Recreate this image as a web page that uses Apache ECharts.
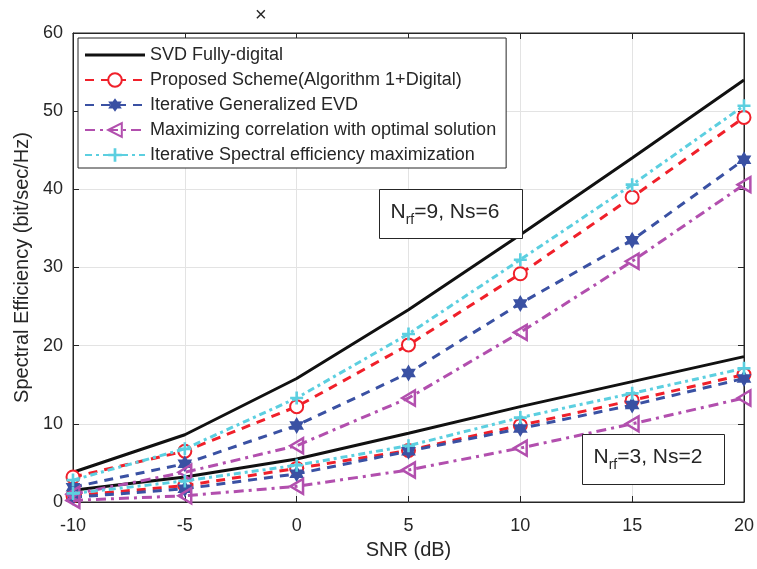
<!DOCTYPE html>
<html>
<head>
<meta charset="utf-8">
<script src="https://cdn.jsdelivr.net/npm/echarts@6/dist/echarts.min.js"></script>
<style>
  html, body { margin: 0; padding: 0; background: #fff; }
  #chart { width: 757px; height: 569px; }
</style>
</head>
<body>
<div id="chart"></div>
<script>
// SNR sweep (dB)
const snr = [-10, -5, 0, 5, 10, 15, 20];
const xTicks = [-10, -5, 0, 5, 10, 15, 20];
const yTicks = [0, 10, 20, 30, 40, 50, 60];

const seriesNames = [
  'SVD Fully-digital',
  'Proposed Scheme(Algorithm 1+Digital)',
  'Iterative Generalized EVD',
  'Maximizing correlation with optimal solution',
  'Iterative Spectral efficiency maximization'
];

// Nrf = 9, Ns = 6
const svd9   = [3.8, 8.6, 15.8, 24.6, 34.2, 44.0, 54.0];
const prop9  = [3.2, 6.5, 12.2, 20.1, 29.2, 39.0, 49.2];
const igevd9 = [1.9, 4.9, 9.8, 16.5, 25.4, 33.5, 43.8];
const mcorr9 = [1.0, 3.8, 7.2, 13.3, 21.7, 30.8, 40.6];
const isem9  = [2.8, 6.8, 13.3, 21.5, 31.0, 40.6, 50.7];

// Nrf = 3, Ns = 2
const svd3   = [1.5, 3.2, 5.5, 8.8, 12.2, 15.4, 18.6];
const prop3  = [0.8, 2.1, 4.3, 6.6, 9.8, 13.0, 16.3];
const igevd3 = [0.6, 1.7, 3.6, 6.5, 9.4, 12.4, 15.8];
const mcorr3 = [0.2, 0.8, 2.0, 4.1, 6.9, 10.0, 13.3];
const isem3  = [1.1, 2.7, 4.7, 7.2, 10.8, 13.9, 17.1];

const TXT = '#262626';
const FONT = '"Liberation Sans", Arial, sans-serif';

const hexagram = 'path://M10,0 L12.887,5 L18.66,5 L15.774,10 L18.66,15 L12.887,15 L10,20 L7.113,15 L1.34,15 L4.226,10 L1.34,5 L7.113,5 Z';
const leftTri = 'path://M0,10 L17,0 L17,20 Z';
const plusSym = 'path://M4,0 L6,0 L6,4 L10,4 L10,6 L6,6 L6,10 L4,10 L4,6 L0,6 L0,4 L4,4 Z';
// plain solid stroke used as the legend key of the unmarked series
const solidKey = 'path://M0,0 L60,0 L60,3 L0,3 Z';

const styles = [
  { color: '#111111', type: 'solid', symbol: 'none', size: 0, fill: '#111111', bw: 0 },
  { color: '#f0202a', type: [9, 7], symbol: 'emptyCircle', size: 13, fill: '#f0202a', bw: 2.5 },
  { color: '#3a51a3', type: [9, 7], symbol: hexagram, size: 17, fill: '#3a51a3', bw: 0 },
  { color: '#b24fae', type: [10, 5, 3, 5], symbol: leftTri, size: 15, fill: 'rgba(255,255,255,0)', bw: 2.5 },
  { color: '#5ccfe0', type: [7, 4, 3, 4], symbol: plusSym, size: 13, fill: '#5ccfe0', bw: 0 }
];

function makeSeries(idx, values) {
  const s = styles[idx];
  return {
    name: seriesNames[idx],
    type: 'line',
    data: snr.map((x, i) => [x, values[i]]),
    symbol: s.symbol,
    symbolSize: s.size,
    symbolKeepAspect: true,
    showSymbol: s.symbol !== 'none',
    lineStyle: { color: s.color, width: 3, type: s.type },
    itemStyle: { color: s.fill, borderColor: s.color, borderWidth: s.bw },
    emphasis: { disabled: true },
    animation: false,
    z: 2 + idx
  };
}

const group9 = [svd9, prop9, igevd9, mcorr9, isem9];
const group3 = [svd3, prop3, igevd3, mcorr3, isem3];
const series = [];
group9.forEach((v, i) => series.push(makeSeries(i, v)));
group3.forEach((v, i) => series.push(makeSeries(i, v)));

function annotation(left, top, w, h, label) {
  return {
    type: 'group', left: left, top: top,
    children: [
      { type: 'rect', shape: { x: 0, y: 0, width: w, height: h },
        style: { fill: '#fff', stroke: TXT, lineWidth: 1 }, z: 100 },
      { type: 'text', x: 11, y: h / 2 - 2, z: 101,
        style: {
          text: '{n|N}{s|rf}{n|' + label + '}',
          verticalAlign: 'middle',
          rich: {
            n: { fontSize: 21, fontFamily: FONT, fill: TXT, lineHeight: 30, verticalAlign: 'middle' },
            s: { fontSize: 14, fontFamily: FONT, fill: TXT, lineHeight: 30, verticalAlign: 'bottom' }
          }
        } }
    ]
  };
}

const legendData = seriesNames.map((n, i) => (i === 0 ? { name: n, icon: solidKey } : { name: n }));

const chart = echarts.init(document.getElementById('chart'), null, { renderer: 'canvas' });
chart.setOption({
  backgroundColor: '#fff',
  animation: false,
  grid: {
    left: 73, right: 9, top: 33, bottom: 67,
    show: true, borderColor: TXT, borderWidth: 1, backgroundColor: '#fff'
  },
  legend: {
    orient: 'vertical',
    left: 78, top: 38,
    data: legendData,
    itemWidth: 60, itemHeight: 17, itemGap: 7,
    padding: [8, 10, 4, 6],
    backgroundColor: '#fff',
    borderColor: TXT, borderWidth: 1,
    textStyle: { fontSize: 18, fontFamily: FONT, color: TXT, lineHeight: 17 },
    selectedMode: false,
    z: 50
  },
  xAxis: [{
    type: 'value', min: xTicks[0], max: xTicks[xTicks.length - 1], interval: 5,
    name: 'SNR (dB)', nameLocation: 'middle', nameGap: 38,
    nameTextStyle: { fontSize: 20, fontFamily: FONT, color: TXT },
    axisLine: { show: true, onZero: false, lineStyle: { color: TXT, width: 1 } },
    axisTick: { show: true, inside: true, length: 6, lineStyle: { color: TXT } },
    axisLabel: { fontSize: 18, fontFamily: FONT, color: TXT, margin: 15 },
    splitLine: { show: true, lineStyle: { color: '#e3e3e3', width: 1 } }
  }, {
    type: 'value', position: 'top', min: xTicks[0], max: xTicks[xTicks.length - 1], interval: 5,
    axisLine: { show: true, onZero: false, lineStyle: { color: TXT } },
    axisTick: { show: true, inside: true, length: 6, lineStyle: { color: TXT } },
    axisLabel: { show: false }, splitLine: { show: false }
  }],
  yAxis: [{
    type: 'value', min: yTicks[0], max: yTicks[yTicks.length - 1], interval: 10,
    name: 'Spectral Efficiency (bit/sec/Hz)', nameLocation: 'middle', nameGap: 33,
    nameTextStyle: { fontSize: 20, fontFamily: FONT, color: TXT },
    axisLine: { show: true, onZero: false, lineStyle: { color: TXT, width: 1 } },
    axisTick: { show: true, inside: true, length: 6, lineStyle: { color: TXT } },
    axisLabel: { fontSize: 18, fontFamily: FONT, color: TXT, margin: 10 },
    splitLine: { show: true, lineStyle: { color: '#e3e3e3', width: 1 } }
  }, {
    type: 'value', position: 'right', min: yTicks[0], max: yTicks[yTicks.length - 1], interval: 10,
    axisLine: { show: true, onZero: false, lineStyle: { color: TXT } },
    axisTick: { show: true, inside: true, length: 6, lineStyle: { color: TXT } },
    axisLabel: { show: false }, splitLine: { show: false }
  }],
  graphic: [
    annotation(379, 189, 143, 49, '=9, Ns=6'),
    annotation(582, 434, 142, 50, '=3, Ns=2'),
    { type: 'text', left: 255, top: 5, z: 100,
      style: { text: '\u00d7', fontSize: 20, fontFamily: FONT, fill: TXT } }
  ],
  series: series
});
</script>
</body>
</html>
